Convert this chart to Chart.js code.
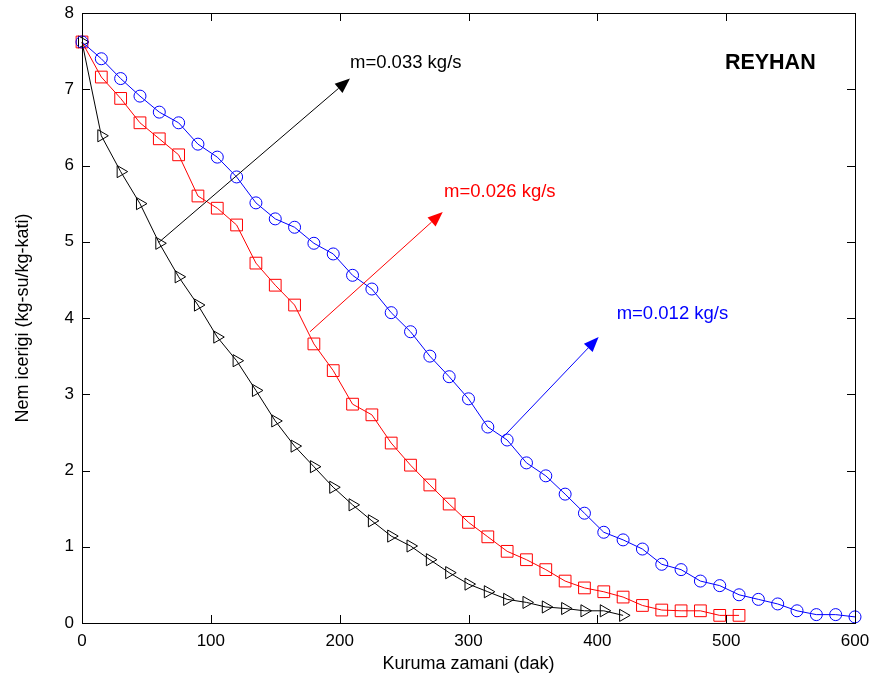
<!DOCTYPE html>
<html><head><meta charset="utf-8">
<script src="https://cdn.jsdelivr.net/npm/chart.js@4/dist/chart.umd.min.js"></script>
<style>html,body{margin:0;padding:0;background:#fff;}#wrap{width:872px;height:682px;}</style>
</head><body><div id="wrap"><canvas id="c" width="872" height="682"></canvas></div>
<script>
// drying time (min)
const timeMin = [0,15,30,45,60,75,90,105,120,135,150,165,180,195,210,225,240,255,270,285,300,315,330,345,360,375,390,405,420,435,450,465,480,495,510,525,540,555,570,585,600];
// moisture content (kg water / kg dry solid)
const moistBlue = [7.62,7.40,7.14,6.91,6.70,6.56,6.28,6.11,5.85,5.51,5.30,5.19,4.98,4.84,4.56,4.38,4.07,3.82,3.50,3.23,2.94,2.57,2.40,2.10,1.93,1.69,1.44,1.19,1.09,0.97,0.77,0.70,0.55,0.49,0.37,0.31,0.25,0.16,0.11,0.11,0.08];
const moistRed = [7.62,7.16,6.88,6.56,6.35,6.14,5.60,5.44,5.22,4.72,4.43,4.17,3.66,3.31,2.87,2.73,2.36,2.07,1.81,1.56,1.32,1.13,0.94,0.83,0.70,0.55,0.46,0.41,0.34,0.23,0.17,0.16,0.16,0.10,0.10];
const moistBlack = [7.62,6.39,5.92,5.50,4.98,4.54,4.17,3.75,3.44,3.05,2.65,2.32,2.05,1.78,1.55,1.34,1.14,1.01,0.83,0.66,0.51,0.41,0.31,0.27,0.21,0.19,0.16,0.16,0.10];
const xTicks = [0,100,200,300,400,500,600];
const yTicks = [0,1,2,3,4,5,6,7,8];
const seriesLabels = ['m=0.012 kg/s','m=0.026 kg/s','m=0.033 kg/s'];
const xTitle = 'Kuruma zamani (dak)';
const yTitle = 'Nem icerigi (kg-su/kg-kati)';
const plotLabel = 'REYHAN';

// annotation arrows, in data units: [fromX, fromY, toX, toY, textX, textY]
const arrowBlue = [327, 2.44, 401, 3.75, 415, 4.06];
const arrowRed = [177, 3.82, 280, 5.39, 281, 5.66];
const arrowBlack = [59.5, 4.99, 208, 7.14, 208, 7.35];
const labelPos = [499, 7.34];

const FONT = "'Liberation Sans', Arial, Helvetica, sans-serif";
Chart.defaults.font.family = FONT;
Chart.defaults.color = '#000';

function toPts(ys){ return ys.map((y,i)=>({x: timeMin[i], y})); }
function noPad(s){ s.paddingTop = 0; s.paddingBottom = 0; s.paddingLeft = 0; s.paddingRight = 0; }

const annot = {
  id: 'annot',
  afterDraw(chart){
    const {ctx, chartArea: a, scales: {x, y}} = chart;
    ctx.save();
    ctx.strokeStyle = '#000';
    ctx.lineWidth = 1;
    ctx.strokeRect(a.left + 0.5, a.top + 0.5, a.right - a.left, a.bottom - a.top);
    const tl = 8;
    ctx.beginPath();
    xTicks.forEach(v => {
      const px = Math.round(x.getPixelForValue(v)) + 0.5;
      ctx.moveTo(px, a.bottom); ctx.lineTo(px, a.bottom - tl);
      ctx.moveTo(px, a.top); ctx.lineTo(px, a.top + tl);
    });
    yTicks.forEach(v => {
      const py = Math.round(y.getPixelForValue(v)) + 0.5;
      ctx.moveTo(a.left, py); ctx.lineTo(a.left + tl, py);
      ctx.moveTo(a.right, py); ctx.lineTo(a.right - tl, py);
    });
    ctx.stroke();

    const arrows = [[arrowBlue, '#0000ff', seriesLabels[0]], [arrowRed, '#ff0000', seriesLabels[1]], [arrowBlack, '#000000', seriesLabels[2]]];
    arrows.forEach(([ar, col, txt]) => {
      const x0 = x.getPixelForValue(ar[0]), y0 = y.getPixelForValue(ar[1]);
      const x1 = x.getPixelForValue(ar[2]), y1 = y.getPixelForValue(ar[3]);
      const ang = Math.atan2(y1 - y0, x1 - x0);
      const L = 15, W = 6;
      const bx = x1 - L * Math.cos(ang), by = y1 - L * Math.sin(ang);
      ctx.strokeStyle = col; ctx.fillStyle = col; ctx.lineWidth = 1;
      ctx.beginPath(); ctx.moveTo(x0, y0); ctx.lineTo(bx, by); ctx.stroke();
      ctx.beginPath();
      ctx.moveTo(x1, y1);
      ctx.lineTo(bx + W * Math.sin(ang), by - W * Math.cos(ang));
      ctx.lineTo(bx - W * Math.sin(ang), by + W * Math.cos(ang));
      ctx.closePath(); ctx.fill();
      ctx.font = '18.5px ' + FONT;
      ctx.textAlign = 'left'; ctx.textBaseline = 'middle';
      ctx.fillText(txt, x.getPixelForValue(ar[4]), y.getPixelForValue(ar[5]));
    });
    ctx.fillStyle = '#000';
    ctx.font = 'bold 21.5px ' + FONT;
    ctx.textAlign = 'left'; ctx.textBaseline = 'middle';
    ctx.fillText(plotLabel, x.getPixelForValue(labelPos[0]), y.getPixelForValue(labelPos[1]));
    ctx.restore();
  }
};

new Chart(document.getElementById('c'), {
  type: 'line',
  data: {
    datasets: [
      { label: seriesLabels[0], data: toPts(moistBlue), borderColor: '#0000ff', backgroundColor: 'rgba(0,0,0,0)',
        pointStyle: 'circle', pointRadius: 6, pointBorderColor: '#0000ff', pointBackgroundColor: 'rgba(0,0,0,0)', pointBorderWidth: 1, borderWidth: 1, tension: 0, clip: false },
      { label: seriesLabels[1], data: toPts(moistRed), borderColor: '#ff0000', backgroundColor: 'rgba(0,0,0,0)',
        pointStyle: 'rect', pointRadius: 8.3, pointBorderColor: '#ff0000', pointBackgroundColor: 'rgba(0,0,0,0)', pointBorderWidth: 1, borderWidth: 1, tension: 0, clip: false },
      { label: seriesLabels[2], data: toPts(moistBlack), borderColor: '#000000', backgroundColor: 'rgba(0,0,0,0)',
        pointStyle: 'triangle', pointRotation: 90, pointRadius: 7, pointBorderColor: '#000000', pointBackgroundColor: 'rgba(0,0,0,0)', pointBorderWidth: 1, borderWidth: 1, tension: 0, clip: false }
    ]
  },
  options: {
    responsive: false, animation: false, devicePixelRatio: 1,
    layout: { padding: { top: 13, right: 17, left: 0, bottom: 0 } },
    plugins: { legend: { display: false }, tooltip: { enabled: false } },
    scales: {
      x: { type: 'linear', min: 0, max: 600,
        afterBuildTicks: s => { s.ticks = xTicks.map(v => ({ value: v })); },
        afterFit: s => { s.height = 59; noPad(s); },
        ticks: { font: { size: 17 }, color: '#000', padding: 8, maxRotation: 0 },
        grid: { display: false, drawTicks: false }, border: { display: false },
        title: { display: true, text: xTitle, font: { size: 18 }, color: '#000', padding: { top: 0, bottom: 7 } } },
      y: { type: 'linear', min: 0, max: 8,
        afterBuildTicks: s => { s.ticks = yTicks.map(v => ({ value: v })); },
        afterFit: s => { s.width = 82; noPad(s); },
        ticks: { font: { size: 17 }, color: '#000', padding: 8 },
        grid: { display: false, drawTicks: false }, border: { display: false },
        title: { display: true, text: yTitle, font: { size: 18 }, color: '#000', padding: { top: 12, bottom: 0 } } }
    }
  },
  plugins: [annot]
});
</script></body></html>
